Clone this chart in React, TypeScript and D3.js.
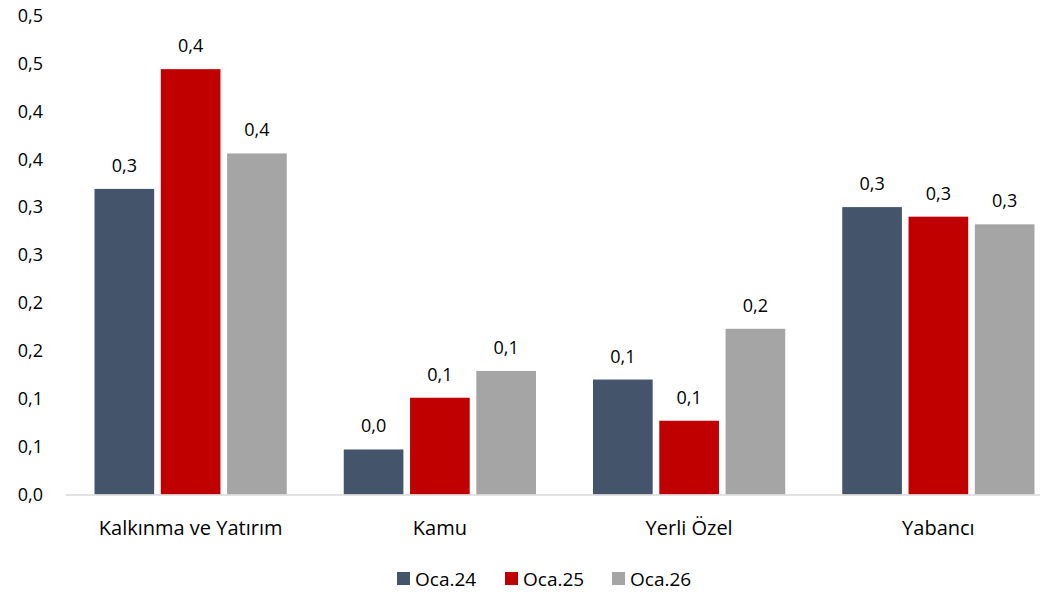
import React from "react";
import * as d3 from "d3";

const categories = ["Kalkınma ve Yatırım", "Kamu", "Yerli Özel", "Yabancı"];
const seriesNames = ["Oca.24", "Oca.25", "Oca.26"];
const oca24 = [0.319, 0.047, 0.12, 0.3];
const oca25 = [0.444, 0.101, 0.077, 0.29];
const oca26 = [0.356, 0.129, 0.173, 0.282];
const yTicks = [0, 0.05, 0.1, 0.15, 0.2, 0.25, 0.3, 0.35, 0.4, 0.45, 0.5];
const colors = ["#44546A", "#C00000", "#A5A5A5"];

const W = 1050;
const H = 595;
const FONT = "'Open Sans', 'Liberation Sans', sans-serif";
const FS = 18;

export default function App() {
  const series = [oca24, oca25, oca26];
  const x = d3.scaleBand<string>().domain(categories).range([66, 1063]).paddingInner(0).paddingOuter(0);
  const y = d3.scaleLinear().domain([0, 0.5]).range([494.5, 15.5]);
  const inner = d3.scaleBand<string>().domain(seriesNames).range([0, x.bandwidth()]).paddingInner(0.1).paddingOuter(0.43);
  const fmt = (v: number) => (Math.round(v * 10) / 10).toFixed(1).replace(".", ",");
  const fmtTick = (v: number) => {
    const r = Math.round(v * 10 + 1e-9) / 10;
    return r.toFixed(1).replace(".", ",");
  };
  const legendX = [397, 505, 612];

  return (
    <svg width={W} height={H} style={{ position: "absolute", left: 0, top: 0, background: "#fff" }} fontFamily={FONT}>
      <rect x={0} y={0} width={W} height={H} fill="#fff" />
      {yTicks.map((t) => (
        <text key={t} x={43} y={y(t)} dy="0.35em" textAnchor="end" fontSize={FS} fill="#000">
          {fmtTick(t)}
        </text>
      ))}
      {categories.map((c, ci) => (
        <g key={c}>
          {series.map((s, si) => {
            const bx = (x(c) ?? 0) + (inner(seriesNames[si]) ?? 0);
            const bw = inner.bandwidth();
            return (
              <g key={si}>
                <rect x={bx} y={y(s[ci])} width={bw} height={y(0) - y(s[ci])} fill={colors[si]} />
                <text x={bx + bw / 2} y={y(s[ci]) - 17} textAnchor="middle" fontSize={FS} fill="#000">
                  {fmt(s[ci])}
                </text>
              </g>
            );
          })}
          <text x={(x(c) ?? 0) + x.bandwidth() / 2} y={535} textAnchor="middle" fontSize={20} fill="#000">
            {c}
          </text>
        </g>
      ))}
      <line x1={66} x2={1040} y1={y(0) + 0.5} y2={y(0) + 0.5} stroke="#D9D9D9" strokeWidth={1.5} />
      {seriesNames.map((n, i) => (
        <g key={n}>
          <rect x={legendX[i]} y={572} width={13} height={13} fill={colors[i]} />
          <text x={legendX[i] + 18} y={585.5} fontSize={19} fill="#000">
            {n}
          </text>
        </g>
      ))}
    </svg>
  );
}
